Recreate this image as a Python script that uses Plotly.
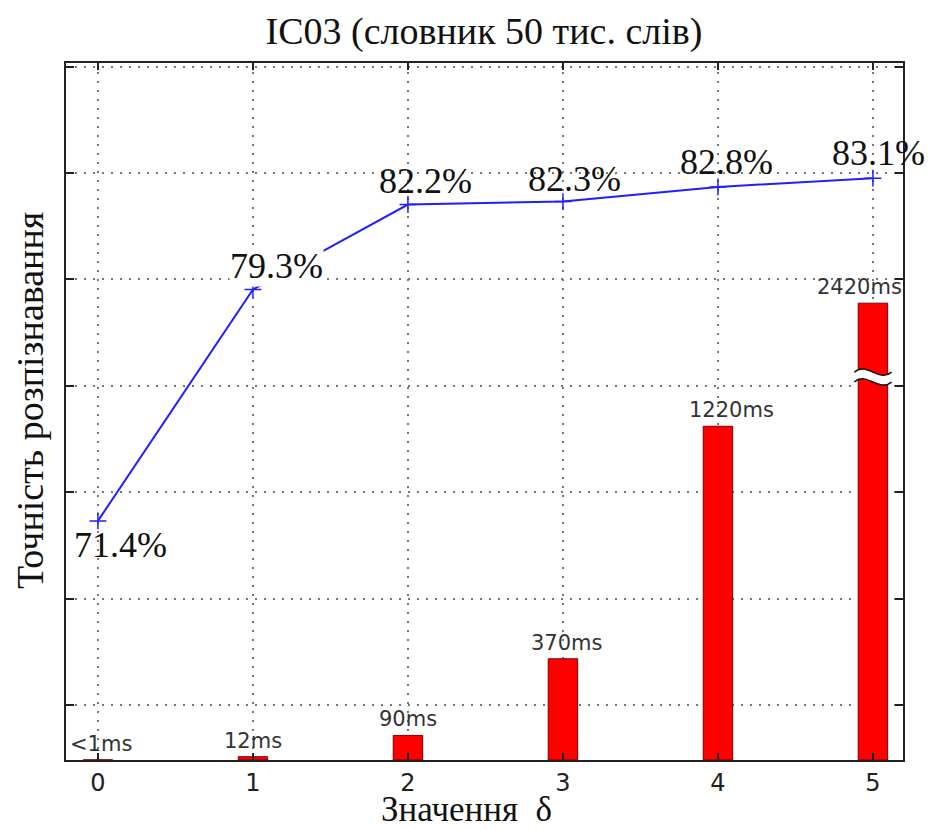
import numpy as np
import plotly.graph_objects as go

# ---------------- data ----------------
delta = [0, 1, 2, 3, 4, 5]
accuracy = [71.4, 79.3, 82.2, 82.3, 82.8, 83.1]
acc_labels = ["71.4%", "79.3%", "82.2%", "82.3%", "82.8%", "83.1%"]
time_ms = [0.5, 12, 90, 370, 1220, 2420]
time_labels = ["<1ms", "12ms", "90ms", "370ms", "1220ms", "2420ms"]
tick_labels = ["0", "1", "2", "3", "4", "5"]

# ---------------- style ----------------
BREAK_CAP_MS = 1670      # broken bar is drawn cut at this height
BREAK_AT_MS = 1400       # where the break mark sits
acc_shift = [(23, -24), (24, 23), (18, 24), (12, 23), (9, 25), (6, 25)]
acc_bg = ["rgba(0,0,0,0)", "white", "rgba(0,0,0,0)", "rgba(0,0,0,0)",
          "rgba(0,0,0,0)", "rgba(0,0,0,0)"]
time_xshift = [3, 0, 0, 4, 14, -13]
SERIF = "Liberation Serif, Times New Roman, serif"
SANS = "DejaVu Sans, Verdana, sans-serif"
BLUE = "#1f1fff"

bar_h = np.minimum(np.array(time_ms, dtype=float), BREAK_CAP_MS)

fig = go.Figure()
fig.add_trace(go.Bar(
    x=delta, y=bar_h, width=0.19, yaxis="y2",
    marker=dict(color="#ff0000", line=dict(color="#7a0000", width=1)),
    showlegend=False, hoverinfo="skip"))
fig.add_trace(go.Scatter(
    x=delta, y=accuracy, mode="lines+markers",
    line=dict(color=BLUE, width=2),
    marker=dict(symbol="cross-thin", size=12, line=dict(color=BLUE, width=1.5)),
    showlegend=False))

annotations = []
for xi, yi, lab, (dx, dy), bg in zip(delta, accuracy, acc_labels, acc_shift, acc_bg):
    annotations.append(dict(x=xi, y=yi, xref="x", yref="y", text=lab, showarrow=False,
                            xanchor="center", yanchor="middle", xshift=dx, yshift=dy,
                            bgcolor=bg, borderpad=0,
                            font=dict(family=SERIF, size=36, color="#111")))
for xi, hi, lab, dx in zip(delta, bar_h, time_labels, time_xshift):
    annotations.append(dict(x=xi, y=hi, xref="x", yref="y2", text=lab, showarrow=False,
                            xanchor="center", yanchor="bottom", xshift=dx, yshift=2,
                            font=dict(family=SANS, size=21, color="#333")))
annotations.append(dict(text="Точність розпізнавання", textangle=-90, showarrow=False,
                        xref="paper", yref="paper", x=(30 - 66) / 837, y=0.515,
                        xanchor="center", yanchor="middle",
                        font=dict(family=SERIF, size=38, color="#111")))
annotations.append(dict(text="Значення\u00a0\u00a0δ", showarrow=False,
                        xref="paper", yref="paper", x=(466 - 66) / 837, y=-(809 - 760) / 697,
                        xanchor="center", yanchor="middle",
                        font=dict(family=SERIF, size=35, color="#111")))

# break mark on the tallest bar
xb0, xb1 = delta[5] - 0.12, delta[5] + 0.12
d = 0.08
a = 20
gap = 36
yt = BREAK_AT_MS + gap / 2
yb = BREAK_AT_MS - gap / 2
shapes = [
    dict(type="path", xref="x", yref="y2", layer="above",
         path=(f"M {xb0},{yt} C {xb0 + d},{yt + 2 * a} {xb1 - d},{yt - 2 * a} {xb1},{yt} "
               f"L {xb1},{yb} C {xb1 - d},{yb - 2 * a} {xb0 + d},{yb + 2 * a} {xb0},{yb} Z"),
         fillcolor="white", line=dict(width=0)),
    dict(type="path", xref="x", yref="y2", layer="above",
         path=f"M {xb0},{yt} C {xb0 + d},{yt + 2 * a} {xb1 - d},{yt - 2 * a} {xb1},{yt}",
         line=dict(color="#111", width=1.5)),
    dict(type="path", xref="x", yref="y2", layer="above",
         path=f"M {xb0},{yb} C {xb0 + d},{yb + 2 * a} {xb1 - d},{yb - 2 * a} {xb1},{yb}",
         line=dict(color="#111", width=1.5)),
]

fig.update_layout(
    width=931, height=829,
    margin=dict(l=66, r=28, t=63, b=69),
    paper_bgcolor="white", plot_bgcolor="white",
    title=dict(text="IC03 (словник 50 тис. слів)", x=(484 / 931), xanchor="center",
               y=1 - 31 / 829, yanchor="middle", yref="container",
               font=dict(family=SERIF, size=38, color="#111")),
    xaxis=dict(range=[-0.206, 5.194], tickvals=delta, ticktext=tick_labels,
               showgrid=True, gridcolor="#777", gridwidth=1.5, griddash="2px,7px",
               ticks="inside", ticklen=7, tickcolor="#222", tickwidth=1.5,
               showline=True, linecolor="#222", linewidth=2, mirror="ticks",
               zeroline=False, tickfont=dict(family=SANS, size=24, color="#222")),
    yaxis=dict(range=[63.24, 87.03], tick0=65.12, dtick=3.631,
               showgrid=True, gridcolor="#777", gridwidth=1.5, griddash="2px,7px",
               ticks="inside", ticklen=8, tickcolor="#222", tickwidth=1.5,
               showline=True, linecolor="#222", linewidth=2, mirror="ticks",
               showticklabels=False, zeroline=False),
    yaxis2=dict(range=[0, 2548], overlaying="y", side="right", visible=False,
                showgrid=False, zeroline=False),
    annotations=annotations,
    shapes=shapes,
)

fig.write_html("out.html", config={"displayModeBar": False},
               post_script="document.body.style.margin='0';document.body.style.overflow='hidden';")
